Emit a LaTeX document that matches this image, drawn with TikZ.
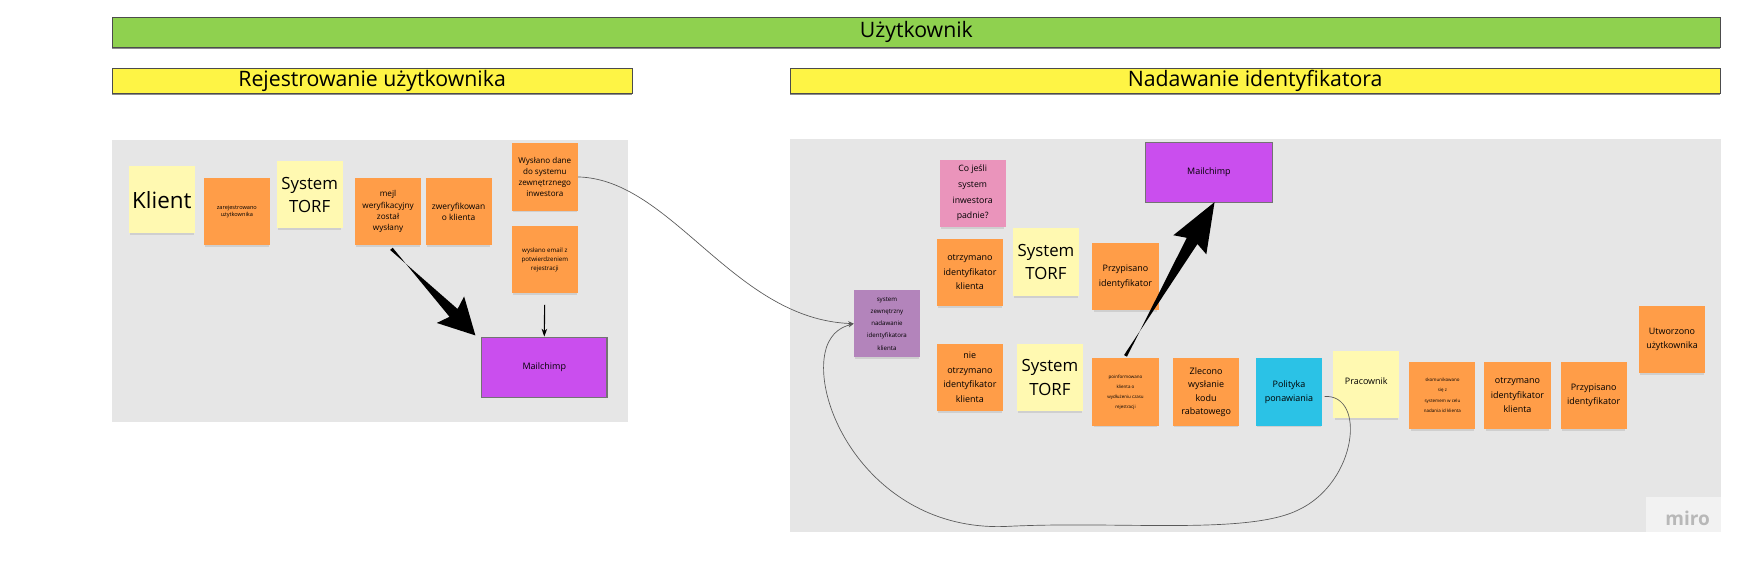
\documentclass[tikz,border=0pt]{standalone}
\usepackage{fontspec}
\setmainfont{Open Sans}
\usetikzlibrary{arrows.meta,calc,shadows}
\definecolor{orng}{HTML}{FF9D48}
\definecolor{lyel}{HTML}{FFF9B1}
\definecolor{pink}{HTML}{EA94BB}
\definecolor{cyan2}{HTML}{2BC2E6}
\definecolor{purp}{HTML}{CA4EEE}
\definecolor{lpurp}{HTML}{B384BB}
\definecolor{grn}{HTML}{8FD14F}
\definecolor{ybar}{HTML}{FEF445}
\definecolor{bg}{HTML}{E6E6E6}
\tikzset{
  stk/.style={minimum width=59pt,minimum height=60pt,inner sep=1pt,align=center,
     drop shadow={shadow xshift=0pt,shadow yshift=-3pt,opacity=0.22,shadow scale=0.96},
     font=\fontsize{8}{11}\selectfont},
  bar/.style={draw=black!70,line width=0.5pt,inner sep=0pt,anchor=north west,font=\fontsize{19}{20}\selectfont},
  mchimp/.style={draw=black!55,line width=1pt,fill=purp,minimum width=112pt,minimum height=54pt,font=\fontsize{8}{10}\selectfont},
  thinarr/.style={draw=black!65,line width=0.6pt,-{Stealth[length=5pt,width=4pt]}},
}
\newcommand{\fatarrow}[5]{% start, tip, startwidth, shaftwidth, headlen
  \fill[black] ($(#1)!#3!90:(#2)$) -- ($($(#2)!#5!(#1)$)!#4!-90:(#2)$)
   -- ($($(#2)!#5+4pt!(#1)$)!17pt!-90:(#2)$) -- (#2)
   -- ($($(#2)!#5+4pt!(#1)$)!17pt!90:(#2)$) -- ($($(#2)!#5!(#1)$)!#4!90:(#2)$)
   -- ($(#1)!#3!-90:(#2)$) -- cycle;}
\begin{document}
\begin{tikzpicture}[x=1pt,y=-1pt]
\useasboundingbox[fill=white] (0,0) rectangle (1568,508.1);
% bars
\fill[black!45] (100,42) rectangle (1536,44);
\node[bar,fill=grn,minimum width=1436pt,minimum height=27pt] (user) at (100,15) {Użytkownik};
\fill[black!45] (100,83) rectangle (564,85);
\node[bar,fill=ybar,minimum width=464pt,minimum height=22pt] (reg) at (100,61) {Rejestrowanie użytkownika};
\fill[black!45] (705,83) rectangle (1536,85);
\node[bar,fill=ybar,minimum width=831pt,minimum height=22pt] (nad) at (705,61) {Nadawanie identyfikatora};
% frames
\fill[bg] (100,125) rectangle (561,377);
\fill[bg] (705,124) rectangle (1537,475);
\fill[black!5] (1470,444) rectangle (1537,475);
\node[text=black!28,font=\fontsize{17}{17}\selectfont\bfseries] (miro) at (1507,463) {miro};
% left stickies
\node[stk,fill=lyel,font=\fontsize{20}{22}\selectfont] (klient) at (144.5,178.5) {Klient};
\node[stk,fill=orng,font=\fontsize{5}{7}\selectfont] (zar) at (211.5,189) {zarejestrowano\\użytkownika};
\node[stk,fill=lyel,font=\fontsize{15}{21}\selectfont] (torf1) at (276.5,174) {System\\TORF};
\node[stk,fill=orng,font=\fontsize{7.3}{10}\selectfont] (mejl) at (346.5,189) {mejl\\weryfikacyjny\\został\\wysłany};
\node[stk,fill=orng,font=\fontsize{7.5}{10}\selectfont] (zwer) at (409.5,189) {zweryfikowan\\o klienta};
\node[stk,fill=orng,font=\fontsize{7.2}{10}\selectfont] (wd) at (486.5,158) {Wysłano dane\\do systemu\\zewnętrznego\\inwestora};
\node[stk,fill=orng,font=\fontsize{5.5}{8}\selectfont] (we) at (486.5,232) {wysłano email z\\potwierdzeniem\\rejestracji};
\node[mchimp] (mc1) at (486,328) {Mailchimp};
% right stickies
\node[stk,fill=pink,font=\fontsize{7.8}{14}\selectfont] (coj) at (868.5,172.5) {Co jeśli\\system\\inwestora\\padnie?};
\node[mchimp,minimum width=113pt] (mc2) at (1079.5,154) {Mailchimp};
\node[stk,fill=orng,font=\fontsize{8}{13}\selectfont] (otrz1) at (866,243) {otrzymano\\identyfikator\\klienta};
\node[stk,fill=lyel,font=\fontsize{15}{21}\selectfont] (torf2) at (934,234) {System\\TORF};
\node[stk,fill=orng,font=\fontsize{8}{13}\selectfont] (prz1) at (1005,247) {Przypisano\\identyfikator};
\node[stk,fill=lpurp,font=\fontsize{5.5}{11}\selectfont] (sz) at (792,289) {system\\zewnętrzny\\nadawanie\\identyfikatora\\klienta};
\node[stk,fill=orng,font=\fontsize{8}{13}\selectfont] (nie) at (866,337) {nie\\otrzymano\\identyfikator\\klienta};
\node[stk,fill=lyel,font=\fontsize{15}{21}\selectfont] (torf3) at (937.5,337) {System\\TORF};
\node[stk,fill=orng,font=\fontsize{4}{9}\selectfont] (poin) at (1005,350) {poinformowano\\klienta o\\wydłużeniu czasu\\rejestracji};
\node[stk,fill=orng,font=\fontsize{8}{12}\selectfont] (zlec) at (1077,350) {Zlecono\\wysłanie\\kodu\\rabatowego};
\node[stk,fill=cyan2,font=\fontsize{8}{13}\selectfont] (pol) at (1151,350) {Polityka\\ponawiania};
\node[stk,fill=lyel,font=\fontsize{8}{10}\selectfont,text depth=6pt] (prac) at (1220,343) {Pracownik};
\node[stk,fill=orng,font=\fontsize{4}{9}\selectfont] (skom) at (1288,353) {skomunikowano\\się z\\systemem w celu\\nadania id klienta};
\node[stk,fill=orng,font=\fontsize{8}{13}\selectfont] (otrz2) at (1355,353) {otrzymano\\identyfikator\\klienta};
\node[stk,fill=orng,font=\fontsize{8}{13}\selectfont] (prz2) at (1423,353) {Przypisano\\identyfikator};
\node[stk,fill=orng,font=\fontsize{8}{13}\selectfont] (utw) at (1493,303) {Utworzono\\użytkownika};
% connectors
\coordinate (a1s) at ($(mejl.south)+(3,3)$);
\coordinate (a1t) at ($(mc1.north west)+(-5,-1)$);
\fatarrow{a1s}{a1t}{1.5pt}{5pt}{28pt}
\coordinate (a2s) at ($(poin.north)+(0,-2)$);
\coordinate (a2t) at ($(mc2.south)+(5,-1)$);
\fatarrow{a2s}{a2t}{1.5pt}{5.5pt}{40pt}
\draw[black,line width=1pt,-{Stealth[length=7pt,width=5pt]},shorten <=10pt] (we.south) -- (mc1.north);
\draw[thinarr] (wd.east) .. controls (600,160) and (655,285) .. (sz.west);
\draw[thinarr] ($(pol.east)+(2,4)$) .. controls (1220,352) and (1212,430) .. (1160,455)
  .. controls (1115,478) and (1000,465) .. (900,470)
  .. controls (780,476) and (722,360) .. (738,310)
  .. controls (743,296) and (752,292) .. (sz.west);
\end{tikzpicture}
\end{document}
